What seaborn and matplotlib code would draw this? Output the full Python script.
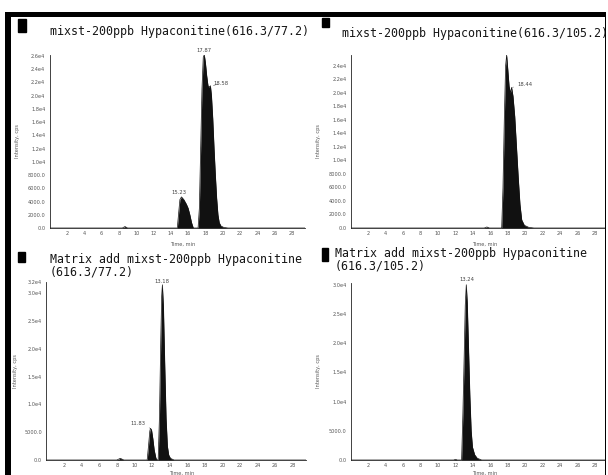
import matplotlib
matplotlib.use('Agg')
import matplotlib.pyplot as plt
from matplotlib.patches import Rectangle
import seaborn as sns

# Chromatogram traces (time in min, intensity in cps)
t_std_77 = [0, 8.4, 8.7, 9.0, 14.75, 14.9, 15.05, 15.23, 15.5, 15.8, 16.0, 16.2, 16.4, 16.6,
            17.15, 17.3, 17.45, 17.6, 17.75, 17.87, 18.0, 18.15, 18.3, 18.45, 18.58, 18.7,
            18.85, 19.0, 19.15, 19.3, 19.45, 19.6, 19.8, 20.1, 20.6, 29.5]
i_std_77 = [0, 0, 220, 0, 0, 2200, 4300, 4700, 4300, 3600, 3000, 2000, 800, 0,
            0, 3000, 12000, 21000, 25800, 26200, 25000, 23000, 21500, 21300, 21500, 20000,
            16500, 12000, 8000, 4500, 2000, 800, 300, 100, 0, 0]

t_std_105 = [0, 15.3, 15.6, 15.9, 17.3, 17.45, 17.6, 17.75, 17.87, 18.0, 18.15, 18.3, 18.44,
             18.6, 18.8, 19.0, 19.2, 19.4, 19.6, 19.9, 20.4, 21.0, 29.5]
i_std_105 = [0, 0, 150, 0, 0, 6000, 16000, 24000, 25600, 23500, 21000, 20000, 20800,
             19500, 16500, 12000, 7500, 3500, 1200, 400, 100, 0, 0]

t_mat_77 = [0, 8.0, 8.4, 8.8, 11.45, 11.6, 11.75, 11.83, 11.95, 12.1, 12.25, 12.45, 12.6,
            12.7, 12.85, 13.0, 13.1, 13.18, 13.3, 13.45, 13.6, 13.75, 13.9, 14.1, 14.5, 29.5]
i_mat_77 = [0, 0, 300, 0, 0, 2500, 5200, 5700, 5400, 3800, 1800, 300, 0,
            0, 8000, 22000, 29500, 31500, 27500, 17000, 7500, 2500, 900, 300, 0, 0]

t_mat_105 = [0, 11.8, 12.0, 12.2, 12.7, 12.85, 13.0, 13.12, 13.24, 13.35, 13.5, 13.65, 13.8,
             13.95, 14.2, 14.5, 15.0, 29.5]
i_mat_105 = [0, 0, 120, 0, 0, 8000, 18000, 26500, 30000, 27000, 19000, 11000, 5000,
             2200, 900, 300, 0, 0]

titles = [
    ["mixst-200ppb Hypaconitine(616.3/77.2)"],
    ["mixst-200ppb Hypaconitine(616.3/105.2)"],
    ["Matrix add mixst-200ppb Hypaconitine", "(616.3/77.2)"],
    ["Matrix add mixst-200ppb Hypaconitine", "(616.3/105.2)"],
]

yticks_std_77 = [0, 2000, 4000, 6000, 8000, 10000, 12000, 14000, 16000, 18000, 20000, 22000, 24000, 26000]
ylabels_std_77 = ['0.0', '2000.0', '4000.0', '6000.0', '8000.0', '1.0e4', '1.2e4', '1.4e4',
                  '1.6e4', '1.8e4', '2.0e4', '2.2e4', '2.4e4', '2.6e4']
yticks_std_105 = yticks_std_77[:-1]
ylabels_std_105 = ylabels_std_77[:-1]
yticks_mat_77 = [0, 5000, 10000, 15000, 20000, 25000, 30000, 32000]
ylabels_mat_77 = ['0.0', '5000.0', '1.0e4', '1.5e4', '2.0e4', '2.5e4', '3.0e4', '3.2e4']
yticks_mat_105 = yticks_mat_77[:-1]
ylabels_mat_105 = ylabels_mat_77[:-1]

xticks = list(range(2, 30, 2))

# peak labels: (text, peak x, peak y, text x, text y, ha, leader)
peaks_std_77 = [('17.87', 17.87, 26200, 17.87, 26500, 'center', False),
                ('18.58', 18.6, 21400, 18.95, 21900, 'left', True),
                ('15.23', 15.1, 4700, 14.95, 5000, 'center', False)]
peaks_std_105 = [('18.44', 18.5, 20800, 19.05, 21300, 'left', True)]
peaks_mat_77 = [('13.18', 13.18, 31500, 13.18, 31700, 'center', False),
                ('11.83', 11.8, 5700, 11.3, 6600, 'right', True)]
peaks_mat_105 = [('13.24', 13.3, 30000, 13.3, 30400, 'center', False)]

sns.set_style('white')
plt.rcParams['font.family'] = ['DejaVu Sans']

W, H = 608, 475
fig = plt.figure(figsize=(W / 100, H / 100), dpi=100)


def px_axes(x0, y_top, x1, y_bot):
    return fig.add_axes([x0 / W, 1 - y_bot / H, (x1 - x0) / W, (y_bot - y_top) / H])


panels = [
    (px_axes(49.7, 55, 304.9, 228), t_std_77, i_std_77, 26150, yticks_std_77, ylabels_std_77,
     peaks_std_77, -0.118, -0.08),
    (px_axes(350.9, 55, 608, 228), t_std_105, i_std_105, 25600, yticks_std_105, ylabels_std_105,
     peaks_std_105, -0.118, -0.08),
    (px_axes(46.4, 282, 306, 460), t_mat_77, i_mat_77, 32000, yticks_mat_77, ylabels_mat_77,
     peaks_mat_77, -0.11, -0.062),
    (px_axes(350.9, 283, 608, 460), t_mat_105, i_mat_105, 30300, yticks_mat_105, ylabels_mat_105,
     peaks_mat_105, -0.118, -0.062),
]

for ax, t, v, ytop, yt, yl, peaks, ylab_x, xlab_y in panels:
    sns.lineplot(x=t, y=v, ax=ax, color='#111111', linewidth=0.5, estimator=None, sort=False)
    ax.fill_between(t, v, color='#111111', linewidth=0)
    ax.set_xlim(0, 29.5)
    ax.set_ylim(0, ytop)
    ax.set_xticks(xticks)
    ax.set_xticks(range(1, 30, 2), minor=True)
    ax.set_yticks(yt)
    ax.set_yticklabels(yl)
    for s in ['top', 'right']:
        ax.spines[s].set_visible(False)
    for s in ['left', 'bottom']:
        ax.spines[s].set_linewidth(0.6)
        ax.spines[s].set_color('#222222')
    ax.tick_params(axis='both', which='major', labelsize=3.6, labelcolor='#555555',
                   length=2, width=0.4, pad=1.2, color='#444444')
    ax.tick_params(axis='x', which='minor', length=1.5, width=0.4, direction='in', color='#444444')
    ax.tick_params(axis='x', which='major', direction='inout', length=2.5)
    ax.set_ylabel('Intensity, cps', fontsize=3.6, color='#555555')
    ax.set_xlabel('Time, min', fontsize=3.6, color='#555555')
    ax.yaxis.set_label_coords(ylab_x, 0.5)
    ax.xaxis.set_label_coords(0.52, xlab_y)
    for txt, px, py, tx, ty, ha, leader in peaks:
        if leader:
            ax.annotate(txt, xy=(px, py), xytext=(tx, ty), fontsize=3.8, color='#444444',
                        ha=ha, va='center', annotation_clip=False,
                        arrowprops=dict(arrowstyle='-', lw=0.3, color='#444444'))
        else:
            ax.text(tx, ty, txt, fontsize=3.8, color='#444444', ha=ha, va='bottom', clip_on=False)

# titles and the small black squares in front of them
title_pos = [(50, [32]), (342, [33]), (50, [260, 272]), (335, [254, 266])]
squares = [(18, 19, 8, 13), (322, 18, 7, 9), (18, 252, 7, 10), (322, 248, 6, 13)]
for (tx, tys), lines, sq in zip(title_pos, titles, squares):
    for ty, line in zip(tys, lines):
        fig.text(tx / W, 1 - ty / H, line, family='DejaVu Sans Mono', fontsize=8.4,
                 color='#151515', ha='left', va='center')
    fig.add_artist(Rectangle((sq[0] / W, 1 - (sq[1] + sq[3]) / H), sq[2] / W, sq[3] / H,
                             transform=fig.transFigure, color='black', zorder=5))

# scan frame
frame = [((5, 12), 6, 463, 'black'), ((5, 12), 601, 5, 'black'),
         ((606, 0), 2, 475, 'white'), ((604.5, 12), 1.5, 463, 'black')]
for (fx, fy), fw, fh, c in frame:
    fig.add_artist(Rectangle((fx / W, 1 - (fy + fh) / H), fw / W, fh / H,
                             transform=fig.transFigure, color=c, zorder=10, linewidth=0))

fig.savefig('out.png', dpi=100)
